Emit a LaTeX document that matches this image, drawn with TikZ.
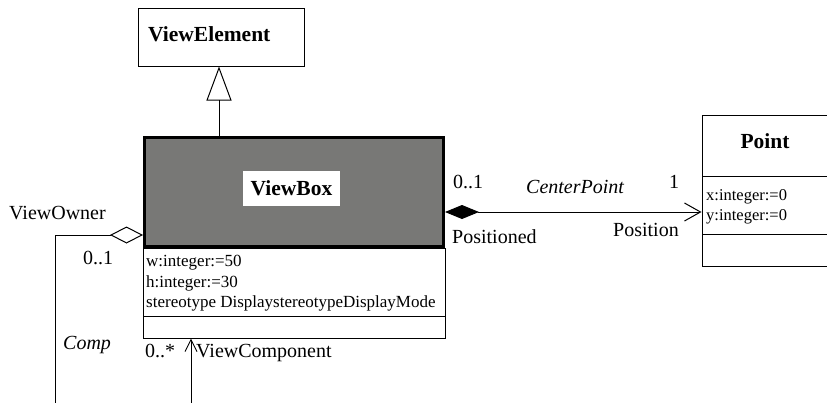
\documentclass[tikz,border=0pt]{standalone}
\usepackage{fontspec}
\setmainfont{Liberation Serif}
\usetikzlibrary{arrows.meta}

\definecolor{headgray}{RGB}{120,120,118}

\tikzset{
  x=1pt, y=-1pt,
  box/.style={draw=black, line width=1pt, inner sep=0pt},
  title/.style={font=\fontsize{21.5}{23}\selectfont\bfseries, inner sep=0pt},
  lbl/.style={font=\fontsize{20}{21}\selectfont, inner sep=0pt, anchor=west},
  attr/.style={font=\fontsize{17}{18}\selectfont, inner sep=0pt, anchor=west},
  pattr/.style={font=\fontsize{16.5}{17}\selectfont, inner sep=0pt, anchor=west},
  gen/.style={line width=1pt, -{Triangle[open, length=34pt, width=25pt, line width=1pt]}},
  compo/.style={line width=1pt, {Diamond[length=34pt, width=14pt]}-{Straight Barb[length=16pt, width=18pt, line width=1pt]}},
  aggr/.style={line width=1pt, {Diamond[open, length=33pt, width=17pt, line width=1pt]}-{Straight Barb[length=12pt, width=12pt, line width=1pt]}},
}

\begin{document}
\begin{tikzpicture}
\useasboundingbox (0,0) rectangle (827,402);
\clip (0,0) rectangle (827,402);

% ViewElement class
\node[box, minimum width=166pt, minimum height=58pt] (VE) at (221,37) {};
\node[title, anchor=west] (VEt) at (148,34) {ViewElement};

% ViewBox class: name compartment, attributes, operations
\node[box, fill=headgray, line width=3pt, minimum width=299pt, minimum height=109pt] (VBhead) at (294,192) {};
\node[box, fill=white, draw=none, minimum width=97pt, minimum height=35pt, title] (VBt) at (291.5,188.5) {ViewBox};
\node[box, minimum width=302pt, minimum height=68pt] (VBattr) at (294,282) {};
\node[box, minimum width=302pt, minimum height=22pt] (VBops) at (294,327) {};
\node[attr] (a1) at (146,263) {w:integer:=50};
\node[attr] (a2) at (146,283) {h:integer:=30};
\node[attr] (a3) at (146,303) {stereotype DisplaystereotypeDisplayMode};

% Point class
\node[box, minimum width=140pt, minimum height=61pt] (PThead) at (772,145.5) {};
\node[box, minimum width=140pt, minimum height=58pt] (PTattr) at (772,205) {};
\node[box, minimum width=140pt, minimum height=32pt] (PTops) at (772,250) {};
\node[title] (PTt) at (765,141) {Point};
\node[pattr] (p1) at (706,197) {x:integer:=0};
\node[pattr] (p2) at (706,217) {y:integer:=0};

% Connectors
\coordinate (cpY) at (0,212);
\coordinate (agY) at (0,235);
\coordinate (loopL) at (55,420);

\draw[gen] (VBhead.north -| 219,0) -- (VE.south -| 219,0);
\draw[compo] (VBhead.east |- cpY) -- (PTattr.west |- cpY);
\draw[aggr] (VBhead.west |- agY) -| (loopL) -| (VBops.south -| 191,0);

% Association labels
\node[lbl] (m1) at (453,182) {0..1};
\node[lbl, font=\fontsize{20}{21}\selectfont\itshape] (cp) at (526,187) {CenterPoint};
\node[lbl] (m2) at (669,182) {1};
\node[lbl] (r1) at (452,237) {Positioned};
\node[lbl] (r2) at (613,230) {Position};

\node[lbl] (vo) at (9,213) {ViewOwner};
\node[lbl] (m3) at (83,258) {0..1};
\node[lbl, font=\fontsize{20}{21}\selectfont\itshape] (cm) at (63,345) {Comp};
\node[lbl] (m4) at (145,351) {0..*};
\node[lbl] (vc) at (196,353) {ViewComponent};
\end{tikzpicture}
\end{document}
